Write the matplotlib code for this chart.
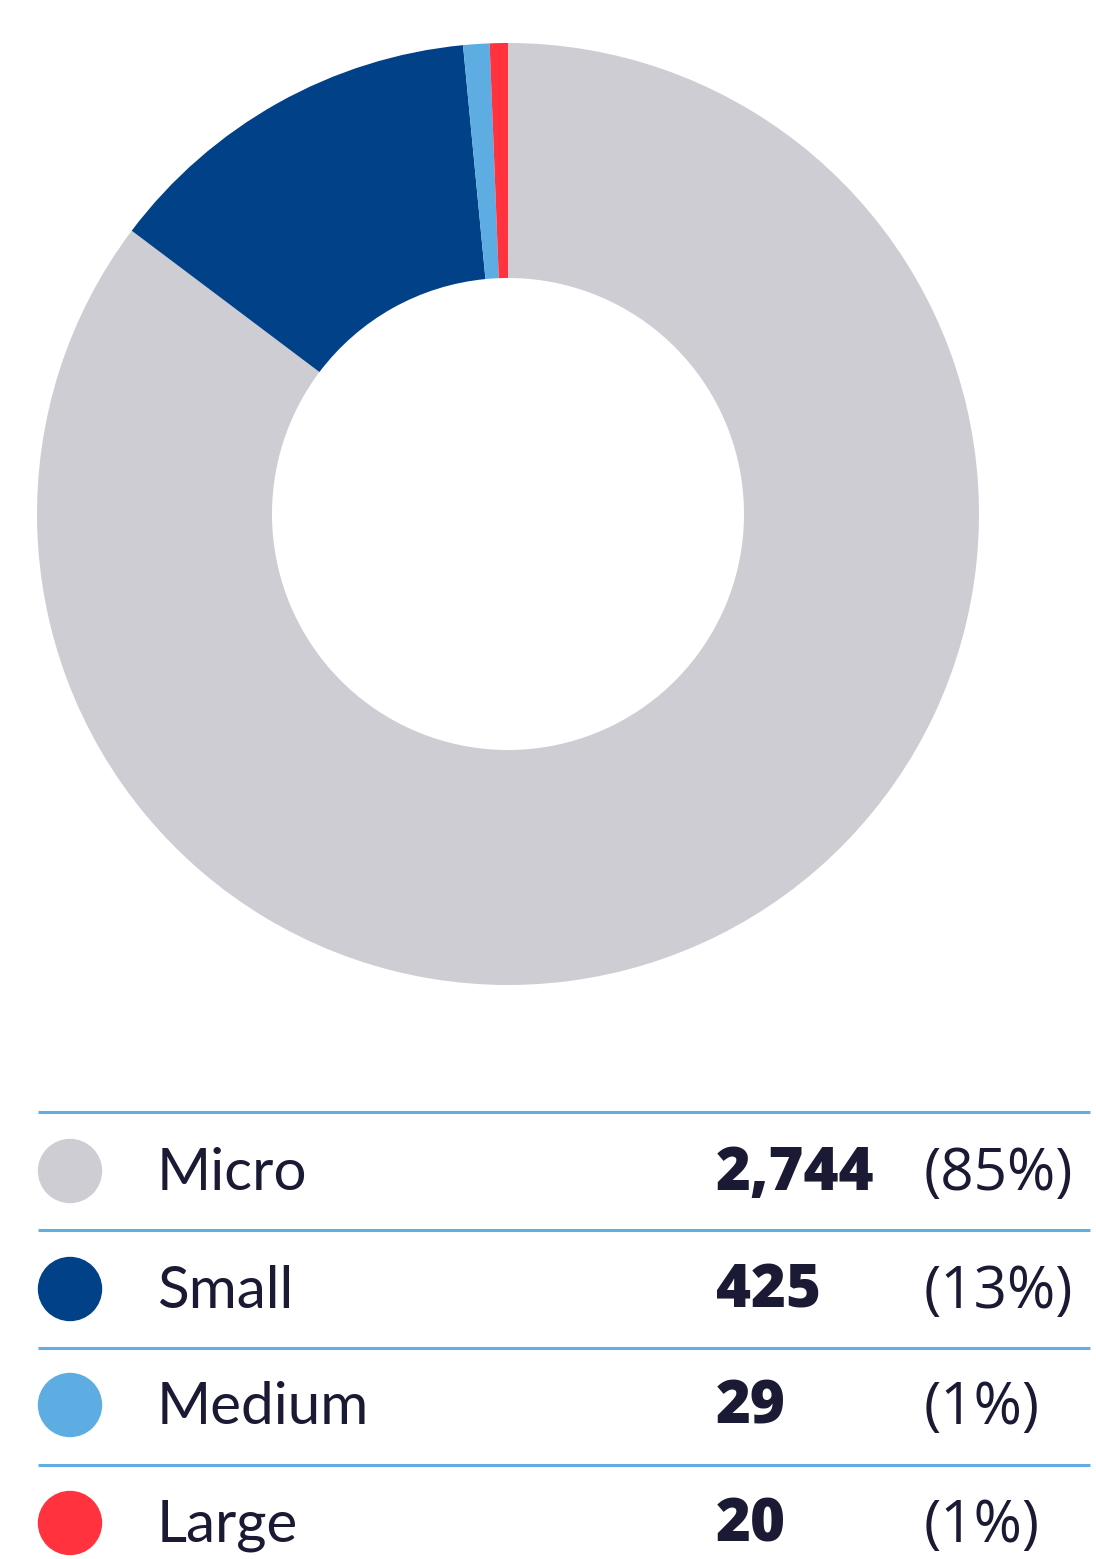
import matplotlib.pyplot as plt

categories = ["Micro", "Small", "Medium", "Large"]
counts = [2744, 425, 29, 20]
pct_labels = ["(85%)", "(13%)", "(1%)", "(1%)"]
count_labels = ["2,744", "425", "29", "20"]
colors = ["#CFCDD4", "#004187", "#5DADE3", "#FF323E"]
text_color = "#1B1A35"
line_color = "#62AEE3"

W, H = 1096, 1559
fig = plt.figure(figsize=(W / 100, H / 100), dpi=100)
plt.rcParams['font.family'] = ['Lato', 'DejaVu Sans']

# donut
cx, cy, r_out, r_in = 508, 514, 471, 236
ax = fig.add_axes([(cx - r_out) / W, (H - cy - r_out) / H, 2 * r_out / W, 2 * r_out / H])
ax.pie(counts, colors=colors, startangle=90, counterclock=False, radius=1,
       wedgeprops=dict(width=1 - r_in / r_out, linewidth=0))
ax.set_xlim(-1, 1)
ax.set_ylim(-1, 1)
ax.set_aspect('equal')
ax.axis('off')

# table below, in pixel coords
tab = fig.add_axes([0, 0, 1, 1])
tab.set_xlim(0, W)
tab.set_ylim(H, 0)
tab.axis('off')

row_y = [1171, 1289, 1405, 1523]
line_y = [1112, 1230, 1348, 1465]
for y in line_y:
    tab.plot([38, 1090], [y, y], color=line_color, lw=2.2, solid_capstyle='butt')

for i, cat in enumerate(categories):
    y = row_y[i]
    tab.scatter([70], [y], s=2150, color=colors[i], edgecolors='none')
    tab.text(157, y + 19, cat, fontsize=42, color=text_color, va='baseline', ha='left')
    tab.text(716, y + 19, count_labels[i], fontsize=43, fontweight='heavy',
             family=['Open Sans', 'DejaVu Sans'],
             color=text_color, va='baseline', ha='left')
    tab.text(924, y + 19, pct_labels[i], fontsize=42, color=text_color,
             family=['Open Sans', 'DejaVu Sans'],
             va='baseline', ha='left')

fig.savefig("out.png", dpi=100)
